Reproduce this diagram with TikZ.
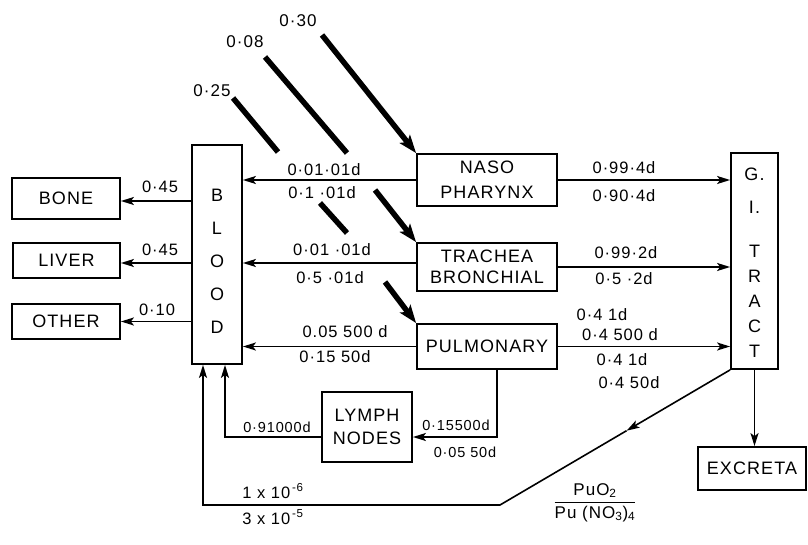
\documentclass[tikz,border=0pt]{standalone}
\usepackage{fontspec}
\setmainfont{Liberation Sans}[LetterSpace=6]
\usetikzlibrary{arrows.meta,calc}
\begin{document}
\begin{tikzpicture}[x=1pt,y=-1pt,
 box/.style={draw,line width=1.8pt,inner sep=0pt,font=\fontsize{18}{23}\selectfont,align=center},
 vtxt/.style={inner sep=0pt,align=center},
 lab/.style={inner sep=0pt,font=\fontsize{16.5}{18}\selectfont},
 slab/.style={inner sep=0pt,font=\fontsize{14.5}{16}\selectfont},
 conn/.style={line width=1.6pt},
 arr/.style={conn,-{Stealth[length=13pt,width=8pt,inset=3pt]}},
 bigarr/.style={line width=5.5pt,-{Stealth[length=18pt,width=13pt,inset=4pt]}},
 bigseg/.style={line width=5.5pt},
]
\useasboundingbox (0,0) rectangle (808,545);
% boxes
\node[box,minimum width=108pt,minimum height=41pt] (bone) at (66,198.5) {BONE};
\node[box,minimum width=107pt,minimum height=35pt] (liver) at (66.5,260.5) {LIVER};
\node[box,minimum width=108pt,minimum height=35pt] (other) at (66,321.5) {OTHER};
\node[box,minimum width=50pt,minimum height=219pt] (blood) at (217,254.5) {};
\node[vtxt,font=\fontsize{18}{33}\selectfont] (bloodtxt) at (217,261) {B\\L\\O\\O\\D};
\node[box,minimum width=140pt,minimum height=52pt,font=\fontsize{18}{25}\selectfont] (naso) at (487,180) {NASO\\PHARYNX};
\node[box,minimum width=140pt,minimum height=48pt,font=\fontsize{18}{21}\selectfont] (trachea) at (487,267) {TRACHEA\\BRONCHIAL};
\node[box,minimum width=140pt,minimum height=45pt] (pulm) at (487,346.5) {PULMONARY};
\node[box,minimum width=47pt,minimum height=216pt] (gi) at (754.5,261) {};
\node[vtxt,font=\fontsize{18}{25}\selectfont] (gitxt) at (754.5,262.5) {G.\\[8pt]I.\\[19pt]T\\R\\A\\C\\T};
\node[box,minimum width=90pt,minimum height=70pt] (lymph) at (367,427) {LYMPH\\NODES};
\node[box,minimum width=108pt,minimum height=43pt] (excreta) at (752,468.5) {EXCRETA};
% thick inhalation arrows
\coordinate (a30) at (322,35);
\coordinate (a08a) at (265,57);
\coordinate (a08b) at (347,153);
\coordinate (a08c) at (375,190);
\coordinate (a25a) at (233,98);
\coordinate (a25b) at (278,152);
\coordinate (a25c) at (320,203);
\coordinate (a25d) at (347,233);
\coordinate (a25e) at (385,282);
\draw[bigarr] (a30) -- (naso.north west);
\draw[bigseg] (a08a) -- (a08b);
\draw[bigarr] (a08c) -- (trachea.north west);
\draw[bigseg] (a25a) -- (a25b);
\draw[bigseg] (a25c) -- (a25d);
\draw[bigarr] (a25e) -- (pulm.north west);
\node[lab,font=\fontsize{17}{18}\selectfont] (t30) at (298,21) {0·30};
\node[lab,font=\fontsize{17}{18}\selectfont] (t08) at (245,42) {0·08};
\node[lab,font=\fontsize{17}{18}\selectfont] (t25) at (212,91) {0·25};
% horizontal flows
\draw[arr] (naso.west) -- (naso.west -| blood.east);
\draw[arr] (naso.east) -- (naso.east -| gi.west);
\draw[arr] ([yshift=4pt]trachea.west) -- ([yshift=4pt]trachea.west -| blood.east);
\draw[arr] (trachea.east) -- (trachea.east -| gi.west);
\draw[arr] (pulm.west) -- (pulm.west -| blood.east);
\draw[arr] (pulm.east) -- (pulm.east -| gi.west);
\draw[arr] ([yshift=-2.5pt]bone.east -| blood.west) -- ([yshift=-2.5pt]bone.east);
\draw[arr] ([yshift=-2.5pt]liver.east -| blood.west) -- ([yshift=-2.5pt]liver.east);
\draw[arr] (other.east -| blood.west) -- (other.east);
% lymph
\coordinate (ly) at (497,437);
\coordinate (bl2) at (225,437);
\draw[arr] (ly |- pulm.south) -- (ly) -- (ly -| lymph.east);
\draw[arr] (ly -| lymph.west) -- (bl2) -- (bl2 |- blood.south);
% GI to blood
\coordinate (gb1) at (500,505);
\coordinate (gb2) at (203,505);
\coordinate (gm) at ($(gi.south west)!0.45!(gb1)$);
\draw[arr] (gi.south west) -- (gm);
\draw[arr] (gm) -- (gb1) -- (gb2) -- (gb2 |- blood.south);
% GI to excreta
\draw[arr] (gi.south) -- (gi.south |- excreta.north);
% labels
\node[lab] (l1) at (324,170) {0·01·01d};
\node[lab] (l2) at (322,193) {0·1 ·01d};
\node[lab] (l3) at (624,168) {0·99·4d};
\node[lab] (l4) at (624,196) {0·90·4d};
\node[lab] (l5) at (332,250) {0·01 ·01d};
\node[lab] (l6) at (330,278) {0·5 ·01d};
\node[lab] (l7) at (626,253) {0·99·2d};
\node[lab] (l8) at (624,279) {0·5 ·2d};
\node[lab] (l9) at (345,332) {0.05 500 d};
\node[lab] (l10) at (335,357) {0·15 50d};
\node[lab] (l11) at (602,315) {0·4 1d};
\node[lab] (l12) at (620,335) {0·4 500 d};
\node[lab] (l13) at (622,360) {0·4 1d};
\node[lab] (l14) at (629,383) {0·4 50d};
\node[lab] (l15) at (160,187) {0·45};
\node[lab] (l16) at (160,250) {0·45};
\node[lab] (l17) at (157,310) {0·10};
\node[slab] (l18) at (277,427) {0·91000d};
\node[slab] (l19) at (456,425) {0·15500d};
\node[slab] (l20) at (465,452) {0·05 50d};
\node[lab] (l21) at (273,491) {1 x 10\textsuperscript{\,-6}};
\node[lab] (l22) at (273,517) {3 x 10\textsuperscript{\,-5}};
\node[lab,align=center,font=\fontsize{17}{19}\selectfont] (l23) at (595,503) {\begin{tabular}{@{}c@{}}PuO\textsubscript{2}\\[1pt]\hline\rule{0pt}{16pt}Pu (NO\textsubscript{3})\textsubscript{4}\end{tabular}};
\end{tikzpicture}
\end{document}
